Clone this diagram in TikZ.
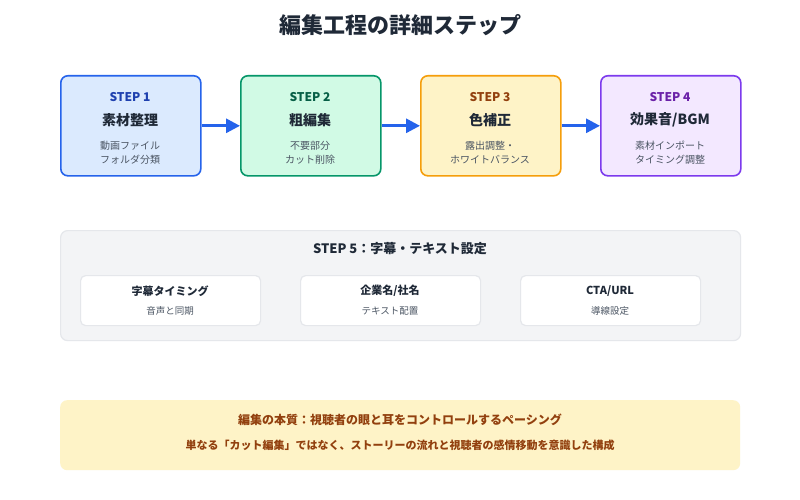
\documentclass[tikz,border=0pt]{standalone}
\usepackage{fontspec}
\setmainfont{Noto Sans CJK JP}
\usetikzlibrary{arrows.meta}
\definecolor{bA}{HTML}{DBEAFE}\definecolor{bB}{HTML}{2563EB}\definecolor{bT}{HTML}{1E40AF}
\definecolor{gA}{HTML}{D1FAE5}\definecolor{gB}{HTML}{059669}\definecolor{gT}{HTML}{065F46}
\definecolor{yA}{HTML}{FEF3C7}\definecolor{yB}{HTML}{F59E0B}\definecolor{yT}{HTML}{92400E}
\definecolor{pA}{HTML}{F3E8FF}\definecolor{pB}{HTML}{7C3AED}\definecolor{pT}{HTML}{6B21A8}
\definecolor{txt}{HTML}{1F2937}\definecolor{sub}{HTML}{4B5563}
\definecolor{grA}{HTML}{F3F4F6}\definecolor{grB}{HTML}{E5E7EB}
\begin{document}
\begin{tikzpicture}[x=1pt,y=-1pt,
 stp/.style={draw,line width=1.6pt,rounded corners=7pt,minimum width=140pt,minimum height=100pt,anchor=north west},
 inbox/.style={draw=grB,fill=white,line width=1.2pt,rounded corners=5pt,minimum width=180pt,minimum height=50pt,anchor=north west},
 t/.style={font=\bfseries\fontsize{12}{14}\selectfont},
 m/.style={font=\bfseries\fontsize{14}{16}\selectfont,text=txt},
 s/.style={font=\fontsize{10}{14}\selectfont,text=sub,align=center},
 arr/.style={-{Triangle[length=14pt,width=14pt]},draw=bB,line width=3pt}]
\path[use as bounding box,fill=white] (0,0) rectangle (800,500);
\node[font=\bfseries\fontsize{22}{26}\selectfont,text=txt] (title) at (400,25) {編集工程の詳細ステップ};
\node[stp,draw=bB,fill=bA] (s1) at (60,75) {};
\node[stp,draw=gB,fill=gA] (s2) at (240,75) {};
\node[stp,draw=yB,fill=yA] (s3) at (420,75) {};
\node[stp,draw=pB,fill=pA] (s4) at (600,75) {};
\foreach \n/\x/\c/\a/\b in {1/130/bT/素材整理/{動画ファイル\\フォルダ分類},2/310/gT/粗編集/{不要部分\\カット削除},3/490/yT/色補正/{露出調整・\\ホワイトバランス},4/670/pT/{効果音/BGM}/{素材インポート\\タイミング調整}}{
 \node[t,text=\c] (st\n) at (\x,97) {STEP \n};
 \node[m] (mt\n) at (\x,120) {\a};
 \node[s] (sb\n) at (\x,153) {\b};
}
\draw[arr] (s1.east) -- (s2.west);
\draw[arr] (s2.east) -- (s3.west);
\draw[arr] (s3.east) -- (s4.west);
\node[draw=grB,fill=grA,line width=1.2pt,rounded corners=7pt,minimum width=680pt,minimum height=110pt,anchor=north west] (s5) at (60,230) {};
\node[font=\bfseries\fontsize{13}{15}\selectfont,text=txt] (s5t) at (400,249) {STEP 5：字幕・テキスト設定};
\foreach \n/\x/\a/\b in {1/80/字幕タイミング/音声と同期,2/300/{企業名/社名}/テキスト配置,3/520/{CTA/URL}/導線設定}{
 \node[inbox] (i\n) at (\x,275) {};
 \node[font=\bfseries\fontsize{11}{13}\selectfont,text=txt] (it\n) at (\x+90,291) {\a};
 \node[font=\fontsize{9.5}{12}\selectfont,text=sub] (ib\n) at (\x+90,311) {\b};
}
\node[fill=yA,rounded corners=7pt,minimum width=680pt,minimum height=70pt,anchor=north west] (note) at (60,400) {};
\node[font=\bfseries\fontsize{12}{14}\selectfont,text=yT] (n1) at (400,420) {編集の本質：視聴者の眼と耳をコントロールするペーシング};
\node[font=\bfseries\fontsize{11}{13}\selectfont,text=yT] (n2) at (400,445) {単なる「カット編集」ではなく、ストーリーの流れと視聴者の感情移動を意識した構成};
\end{tikzpicture}
\end{document}
